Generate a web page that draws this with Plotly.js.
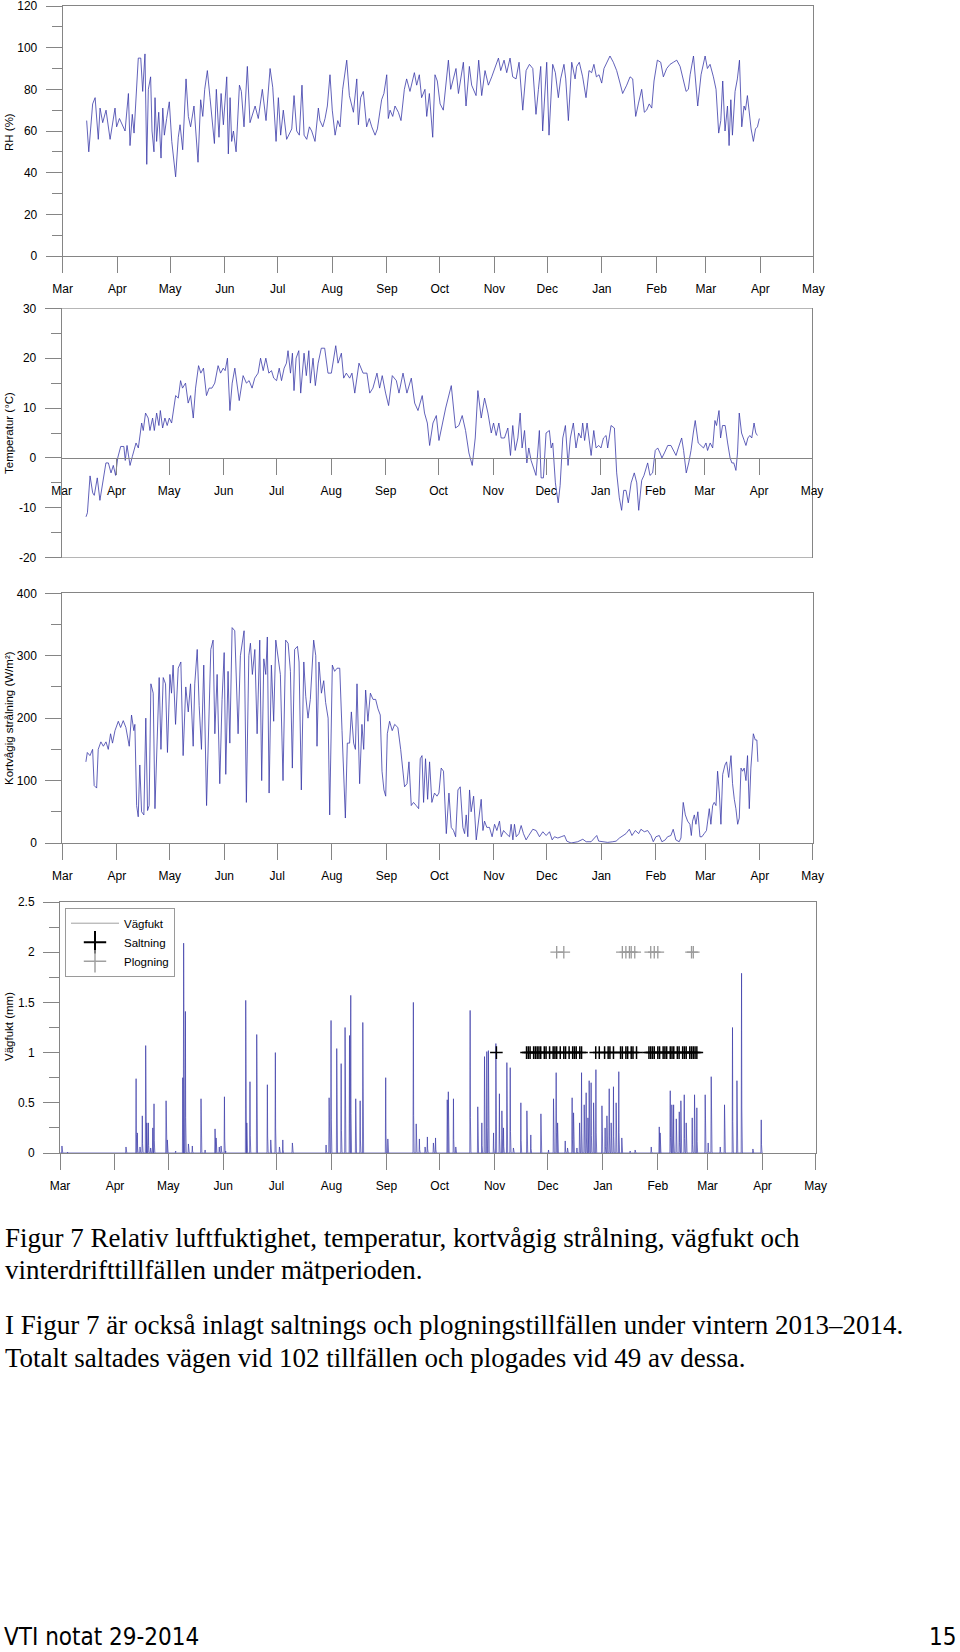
<!DOCTYPE html>
<html>
<head>
<meta charset="utf-8">
<script src="https://cdn.plot.ly/plotly-3.0.1.min.js"></script>
<style>
html,body{margin:0;padding:0;background:#ffffff;}
#chart{width:960px;height:1652px;}
</style>
</head>
<body>
<div id="chart"></div>
<script>
// ---------------- DATA (days since 2013-03-01) ----------------
const periodStart = '2013-03-01';
const periodEnd = '2014-05-01';

const monthTickDates = ['2013-03-01','2013-04-01','2013-05-01','2013-06-01','2013-07-01','2013-08-01','2013-09-01','2013-10-01','2013-11-01','2013-12-01','2014-01-01','2014-02-01','2014-03-01','2014-04-01','2014-05-01'];
const monthTickLabels = ['Mar','Apr','May','Jun','Jul','Aug','Sep','Oct','Nov','Dec','Jan','Feb','Mar','Apr','May'];

// Relative humidity (%)
const rhDays = [13.6,14.8,17.0,18.4,20.2,21.2,22.7,24.6,26.9,29.7,30.6,32.2,35.4,37.3,38.2,39.5,40.5,41.1,42.9,44.3,45.4,46.7,47.7,48.6,49.9,50.7,51.8,52.4,53.3,54.5,55.8,56.8,57.7,59.0,60.5,61.9,62.8,64.1,65.6,66.6,68.1,70.0,71.3,72.6,74.5,76.8,78.3,79.5,80.6,82.1,83.6,86.1,87.2,88.7,89.9,91.2,93.1,94.0,95.0,95.9,96.9,98.4,100.3,101.4,102.9,104.8,106.3,109.2,111.0,113.3,115.4,117.7,119.2,121.1,122.4,123.7,125.2,127.1,130.0,131.3,132.8,134.3,135.8,137.0,138.5,140.0,141.3,143.2,145.1,146.0,147.6,148.9,150.2,151.7,153.0,154.6,156.1,157.4,158.9,161.2,162.7,165.0,166.9,167.8,169.1,170.6,172.5,174.0,175.4,177.3,178.6,181.0,182.3,183.9,184.8,185.8,187.3,188.6,190.5,192.0,193.9,195.2,197.1,199.6,200.9,202.4,203.7,205.6,206.6,208.1,210.0,211.3,212.6,214.2,216.0,218.9,220.2,221.7,223.2,224.6,227.4,228.9,230.8,232.1,234.6,236.1,
237.8,239.7,241.6,243.5,245.4,247.3,248.6,250.5,252.0,253.9,255.4,257.3,259.0,261.1,263.0,264.9,266.8,268.6,270.0,271.3,272.4,274.7,276.0,278.1,279.6,281.3,282.6,284.5,285.5,287.0,288.9,290.8,291.7,293.2,295.1,297.0,298.7,300.2,301.5,302.9,304.4,305.9,307.2,308.7,310.6,312.5,314.4,316.3,317.8,320.1,322.0,323.5,325.2,326.7,328.6,330.1,331.4,332.9,334.3,335.6,337.5,339.4,340.9,342.8,344.7,346.6,348.5,350.4,352.3,353.8,355.1,356.1,358.0,360.4,362.3,364.6,365.9,367.4,369.3,370.8,372.3,373.5,374.6,375.9,377.3,378.2,379.2,380.1,381.6,382.9,384.1,385.4,386.7,387.5,388.6,389.8,390.7,392.0,393.2,394.3,395.4];
const rhValues = [65,50,73,76,56,71,64,70,56,71,62,66,60,78,53,68,59,68,95,95,79,97,44,80,86,60,50,76,55,69,47,71,58,66,74,55,48,38,57,63,51,85,67,62,72,45,75,67,80,89,76,54,80,57,78,63,86,49,76,55,60,50,82,79,62,91,64,72,66,80,65,90,81,55,76,58,70,56,61,77,60,58,82,58,56,62,60,55,71,65,62,66,72,87,70,58,65,62,80,94,77,69,85,63,76,79,62,66,62,58,61,75,78,87,66,70,67,72,69,65,80,85,79,88,82,87,76,80,67,78,57,87,84,73,70,94,80,85,90,78,93,72,91,82,77,94,
77,89,82,86,91,95,89,94,88,95,86,85,93,70,89,92,90,68,80,91,60,93,58,92,88,76,85,92,85,65,93,85,91,93,86,76,89,88,92,86,87,83,90,93,96,93,89,83,78,82,86,85,67,73,80,69,70,73,71,84,94,93,86,90,92,93,94,91,84,79,80,87,96,72,87,96,90,92,86,80,59,65,84,60,72,53,75,58,79,85,94,62,72,70,77,68,61,55,61,62,66];

// Temperature (°C)
const tempDays = [13.8,14.6,16.1,17.6,18.5,20.2,21.7,23.3,25.1,26.5,28.0,29.3,30.6,31.8,33.5,35.3,36.1,37.1,38.8,40.1,42.2,43.5,45.4,46.3,47.6,49.1,50.1,51.6,52.6,53.9,55.2,56.0,57.3,58.6,59.9,61.1,62.4,64.7,66.2,67.5,68.6,70.3,71.8,73.2,74.7,76.0,77.7,79.0,80.5,82.2,83.7,85.3,86.9,88.8,90.2,91.7,92.8,94.1,95.5,96.8,98.3,100.8,103.0,104.9,106.4,108.1,109.6,111.5,112.9,114.4,115.9,117.6,119.1,120.4,122.0,123.5,124.8,126.3,127.6,128.5,129.9,131.0,131.9,133.1,134.6,135.7,136.7,137.6,138.9,140.3,141.2,142.7,144.0,145.6,147.4,149.3,151.2,153.1,155.6,156.9,158.8,160.1,161.6,163.5,164.8,166.4,168.8,171.1,173.3,174.9,176.7,179.0,180.5,182.0,183.9,185.6,187.7,190.0,191.5,193.8,196.0,198.5,200.4,202.3,204.7,206.0,207.6,208.9,210.8,212.7,214.2,215.5,218.0,221.2,223.6,225.5,227.4,229.3,231.2,233.1,234.8,236.3,
238.2,240.1,242.0,243.9,245.2,246.7,248.2,249.5,251.4,253.3,254.8,256.1,257.5,259.0,260.3,261.4,262.8,264.1,265.2,266.5,267.8,269.3,271.2,272.2,273.5,275.0,276.9,277.9,278.8,280.3,281.9,283.0,284.5,286.0,287.5,288.8,290.5,292.0,293.5,294.9,295.8,296.9,298.3,300.6,302.1,303.4,304.9,306.2,307.6,309.1,310.0,311.9,313.8,315.1,316.6,317.9,319.1,320.4,321.7,323.3,325.1,326.5,327.6,329.3,330.6,332.7,334.0,335.5,337.0,338.4,339.7,340.8,342.2,344.1,345.9,347.8,348.8,350.1,352.0,353.1,354.6,356.0,357.3,358.6,359.7,361.4,362.9,364.4,365.8,366.7,368.2,369.6,370.9,371.8,373.2,374.1,375.2,376.7,378.1,379.5,380.5,381.6,382.8,383.7,384.7,386.0,387.5,388.5,389.6,390.7,391.8,393.1,394.1,395.0];
const tempValues = [-11.8,-11,-3.6,-7,-7.5,-4,-8.5,-5,-1,-1,-3,-1.5,-3.5,0,2.3,2.3,-0.5,2.5,-1.5,0.3,3,2,7,5.5,9,8,5.5,8,5.5,9,6.5,9.5,6,8,6.5,8,7,12.5,12,15.5,14,15,11,12.5,8,14,18.5,17,18,12.5,14,14,15,18.5,17,18,17.5,20,9.5,15,18,11.5,16.5,15,15.5,14,16,17,20,17.5,20,17,17.5,16,15.5,18,15.5,18,19,21.5,17,21,13.5,20,21.5,13,18,21,16.5,21.5,15,20,14.5,19,22,22,17,17,22.5,19,21,16,17,16,17,13,19,17,17,13,14,17,14,16.5,13,10.5,16.5,15.5,13,17,13,16,11,9.5,12.5,9,7,2.5,7,8.5,3.5,6,10,14.5,6,6.5,8.5,5.5,1,-1.5,4,13.5,
8,12,9,5,7,4.5,7,4,4,6,0.5,6.5,1.5,4,9,2,5.5,-1,2,-0.5,-2,-3.5,5.5,-4,-4,5,5.5,2,3,-5,-9,-5.5,4,6.5,-1.5,4,7,2,5,4,7,3.5,7,0.5,5.5,2,2.5,2,4,4.5,2,6.5,6,-3,-8,-10.5,-6.5,-6.5,-9,-5,-3,-5,-10.5,-4.5,-3.5,-1,-3.5,-3,1.5,2,1,0,1,2.5,2.5,1,0.5,2,4,1.5,-3,-1,1.5,5,7.5,3,2.5,2,3,1.5,3,2,7.5,6.5,9.5,4,6.5,6.5,3,0,-1,-1,-2.5,1,9,5,3.5,2.5,4,4.5,4,7,5,4.5];

// Short-wave radiation (W/m²)
const radDays = [13.4,14.2,15.7,17.2,18.1,19.5,20.4,21.9,23.3,24.8,26.1,27.4,28.5,29.9,31.8,33.1,34.6,36.1,38.0,39.3,40.6,41.2,42.2,43.1,44.0,45.0,46.3,47.4,48.4,49.3,50.3,51.6,52.6,53.9,55.0,56.0,57.3,58.6,59.7,61.1,62.0,62.9,64.3,65.8,67.3,68.6,70.1,71.5,72.8,74.3,75.2,76.6,77.7,79.0,80.3,81.9,83.2,84.3,85.6,86.6,87.9,89.4,90.7,91.9,92.8,94.1,95.1,96.4,97.9,98.9,99.8,101.1,103.2,104.5,105.9,106.8,107.9,109.3,110.6,112.1,113.2,114.4,115.5,116.4,117.4,118.7,120.0,121.2,122.5,123.8,125.3,126.8,128.2,129.5,130.6,131.9,133.5,134.4,135.7,137.1,138.2,139.5,140.8,142.7,143.9,144.6,145.7,147.1,148.4,149.5,150.9,151.8,153.3,154.6,156.0,157.5,158.8,159.7,160.7,161.8,163.1,164.1,165.4,166.4,167.3,168.8,170.1,171.1,172.2,173.5,174.9,176.4,177.9,179.2,180.5,181.5,182.6,183.6,184.5,185.8,187.3,188.7,190.5,192.1,193.4,194.3,195.7,196.8,198.1,199.4,200.9,202.3,203.2,204.2,205.1,206.2,207.4,208.5,209.8,211.3,212.7,213.8,215.1,216.4,218.0,219.5,220.8,222.1,223.3,224.6,225.9,227.4,228.4,229.3,230.2,231.2,232.1,233.5,235.0,236.3,
237.8,238.8,239.7,241.0,242.5,244.0,245.4,246.7,248.2,249.2,250.5,252.0,253.9,254.8,255.8,256.7,257.7,259.2,260.5,261.8,263.3,264.8,267.1,269.0,270.9,272.8,274.7,276.6,278.1,279.4,281.3,283.2,285.1,286.4,288.8,292.6,295.5,297.4,300.2,302.1,303.4,304.5,306.8,309.6,312.5,314.4,316.3,318.2,320.0,321.9,323.4,325.3,327.2,328.5,330.4,332.3,334.2,335.5,337.0,338.9,340.4,342.3,343.6,345.5,346.8,348.3,350.2,351.2,352.5,353.7,355.0,356.3,357.1,357.8,358.8,359.7,360.8,362.0,363.1,364.4,365.7,367.3,368.2,369.2,370.1,371.1,372.0,373.0,373.9,374.9,376.2,377.1,378.3,379.6,380.5,381.5,382.4,383.4,384.3,385.3,386.2,387.1,388.1,389.0,390.0,390.9,392.3,393.4,394.3,394.9];
const radValues = [130,145,140,150,92,88,150,162,155,162,150,175,160,180,195,185,196,185,155,205,180,190,60,42,125,50,45,200,52,60,255,240,55,170,265,150,265,255,145,270,240,285,190,280,290,140,250,210,255,155,255,310,220,150,285,60,180,310,325,175,270,95,230,305,110,275,160,345,340,250,175,300,340,65,300,320,270,310,175,325,100,295,270,330,80,285,195,325,300,270,100,325,320,275,120,310,315,290,85,290,235,200,230,325,300,155,290,240,260,225,200,45,285,275,280,280,180,120,40,160,160,210,160,150,255,95,190,150,245,195,240,230,230,215,205,115,85,75,175,195,180,190,185,150,120,90,95,130,60,65,60,55,135,140,65,135,70,130,65,80,75,80,120,115,15,80,25,20,10,85,90,25,15,45,10,85,50,75,5,40,
70,20,35,25,25,10,30,20,35,10,20,15,10,30,5,30,10,15,28,15,5,12,22,20,10,18,12,18,5,10,8,10,12,3,0,2,6,2,2,8,12,3,2,1,2,3,8,12,15,22,12,20,15,22,18,20,12,2,10,12,2,5,10,12,22,5,2,8,65,45,35,30,12,35,45,30,50,10,10,15,20,55,30,60,65,60,115,80,30,110,125,130,105,140,95,70,55,30,40,120,115,120,100,140,55,120,175,165,165,130];

// Road surface moisture (mm): peak days and peak values
const wetDays = [1.1,4.3,37.2,42.9,43.6,45.1,46.4,48.3,48.9,49.8,51.1,52.3,53.0,59.8,60.5,65.2,69.2,69.7,70.7,72.4,74.6,79.5,81.8,87.4,88.0,89.8,90.8,92.7,93.4,104.7,105.3,107.1,110.9,116.9,118.8,121.4,123.7,125.6,131.0,150.0,151.7,152.8,156.0,158.5,160.7,163.2,163.9,166.7,169.2,170.7,183.6,184.8,199.2,200.8,202.6,205.8,207.1,210.5,211.7,218.3,218.9,221.8,223.1,231.2,235.5,
237.8,239.3,240.6,241.5,244.4,245.7,247.7,249.1,250.0,251.9,253.8,255.6,259.8,263.2,265.4,271.1,275.4,278.2,279.7,280.5,284.8,286.1,288.7,289.5,291.4,292.9,294.0,295.5,296.6,297.6,298.3,299.4,300.8,302.1,305.5,307.3,308.3,309.6,310.7,312.0,313.5,315.0,316.7,321.4,324.2,333.3,337.8,338.3,344.0,344.9,345.9,347.4,349.1,350.0,351.9,353.0,356.4,357.7,359.0,363.7,365.4,367.1,372.2,374.6,379.1,381.6,384.2,390.6,395.3];
const wetMm = [0.07,0.01,0.06,0.74,0.2,0.06,0.37,1.07,0.3,0.3,0.05,0.25,0.49,0.52,0.13,0.02,0.75,2.09,1.41,0.09,0.07,0.54,0.03,0.24,0.15,0.06,0.07,0.56,0.02,1.52,0.3,0.71,1.18,0.68,0.13,1.0,0.06,0.13,0.1,0.08,0.55,1.32,1.04,0.89,1.25,1.17,1.57,0.54,0.52,1.3,0.75,0.14,1.5,0.29,0.14,0.06,0.16,0.1,0.15,0.53,0.61,0.54,0.06,1.42,0.46,
0.3,0.96,1.01,1.02,0.2,1.09,0.59,0.42,0.25,0.9,0.85,0.05,0.5,0.42,0.18,0.39,0.03,0.54,0.8,0.3,0.12,0.05,0.55,0.4,0.05,0.3,0.8,0.48,0.6,0.35,0.72,0.7,0.5,0.83,0.47,0.25,0.37,0.64,0.3,0.66,0.5,0.81,0.15,0.02,0.03,0.06,0.26,0.2,0.62,0.48,0.48,0.34,0.41,0.52,0.58,0.3,0.35,0.58,0.45,0.58,0.1,0.76,0.06,0.48,1.25,0.72,1.79,0.04,0.33];

// Winter maintenance occasions
const saltningDates = ['2013-11-02','2013-11-19','2013-11-20','2013-11-21','2013-11-23','2013-11-24','2013-11-25','2013-11-26','2013-11-27','2013-11-29','2013-11-30','2013-12-02','2013-12-04','2013-12-05','2013-12-06','2013-12-08','2013-12-10','2013-12-11','2013-12-13','2013-12-15','2013-12-16','2013-12-17','2013-12-19','2013-12-20','2013-12-28','2013-12-30','2014-01-02','2014-01-04','2014-01-05','2014-01-07','2014-01-11','2014-01-12','2014-01-14','2014-01-15','2014-01-17','2014-01-18','2014-01-20','2014-01-27','2014-01-28','2014-01-29','2014-01-30','2014-02-01','2014-02-02','2014-02-04','2014-02-05','2014-02-06','2014-02-08','2014-02-09','2014-02-10','2014-02-12','2014-02-13','2014-02-15','2014-02-16','2014-02-17','2014-02-19','2014-02-20','2014-02-21','2014-02-22','2014-02-23'];
const plogningDates = ['2013-12-06','2013-12-10','2014-01-12','2014-01-14','2014-01-16','2014-01-17','2014-01-19','2014-01-28','2014-01-30','2014-02-01','2014-02-20','2014-02-21'];
const saltningLevel = 1;
const plogningLevel = 2;

const yTitles = ['RH (%)','Temperatur (°C)','Kortvågig strålning (W/m²)','Vägfukt (mm)'];
const rhTicks = [0,20,40,60,80,100,120];
const tempTickVals = [-20,-10,0,10,20,30];
const tempTickText = ['-20','-10','0','10','20','30'];
const radTicks = [0,100,200,300,400];
const wetTicks = [0,0.5,1,1.5,2,2.5];

// ---------------- BUILD ----------------
const t0 = Date.UTC(2013,2,1);
const toMs = d => t0 + d*86400000;

const BLUE = '#3a3aa8';
const AX = '#858585';
const SANS = 'Liberation Sans, Arial, sans-serif';
const SERIF = 'Liberation Serif, Times New Roman, serif';
const NARROW = 'Liberation Sans Narrow, DejaVu Sans Condensed, Arial Narrow, sans-serif';
const W = 960, H = 1652;
const fx = px => px / W;
const fy = py => 1 - py / H;

// spikes for road moisture
const wetOrder = wetDays.map((d,i)=>i).sort((a,b)=>wetDays[a]-wetDays[b]);
const wetX = [toMs(0)], wetY = [0];
wetOrder.forEach(i => {
  const d = wetDays[i], h = wetMm[i];
  wetX.push(toMs(d-0.2), toMs(d), toMs(d+0.15), toMs(d+0.45));
  wetY.push(0, h, h*0.25, 0);
});
wetX.push(toMs(396)); wetY.push(0);

const lineStyle = {color: BLUE, width: 0.8};
const traces = [
  {x: rhDays.map(toMs), y: rhValues, xaxis:'x', yaxis:'y', mode:'lines', line: lineStyle, showlegend:false, hoverinfo:'skip'},
  {x: tempDays.map(toMs), y: tempValues, xaxis:'x2', yaxis:'y2', mode:'lines', line: lineStyle, showlegend:false, hoverinfo:'skip'},
  {x: radDays.map(toMs), y: radValues, xaxis:'x3', yaxis:'y3', mode:'lines', line: lineStyle, showlegend:false, hoverinfo:'skip'},
  {x: wetX, y: wetY, xaxis:'x4', yaxis:'y4', mode:'lines', line: {color: BLUE, width: 0.7}, showlegend:false, hoverinfo:'skip'},
  {x: saltningDates, y: saltningDates.map(()=>saltningLevel), xaxis:'x4', yaxis:'y4', mode:'markers',
   marker:{symbol:'cross-thin', size:9, line:{width:1.5, color:'#000'}}, showlegend:false, hoverinfo:'skip'},
  {x: plogningDates, y: plogningDates.map(()=>plogningLevel), xaxis:'x4', yaxis:'y4', mode:'markers',
   marker:{symbol:'cross-thin', size:9, line:{width:1.3, color:'#9a9a9a'}}, showlegend:false, hoverinfo:'skip'},
  // legend entries
  {x:[null], y:[null], xaxis:'x4', yaxis:'y4', mode:'lines', name:'Vägfukt', line:{color:'#a0a0a0', width:1}},
  {x:[null], y:[null], xaxis:'x4', yaxis:'y4', mode:'markers', name:'Saltning', marker:{symbol:'cross-thin', size:16, line:{width:2, color:'#000'}}},
  {x:[null], y:[null], xaxis:'x4', yaxis:'y4', mode:'markers', name:'Plogning', marker:{symbol:'cross-thin', size:16, line:{width:1.5, color:'#a0a0a0'}}}
];

const tickFont = {family: SANS, size: 12, color: '#000'};
function xAxis(x0, x1, extra){
  return Object.assign({
    type:'date', domain:[fx(x0), fx(x1)], range:[periodStart, periodEnd],
    tickmode:'array', tickvals: monthTickDates, ticktext: monthTickLabels,
    ticks:'outside', ticklen:16, tickwidth:1, tickcolor:AX,
    showline:true, linecolor:AX, linewidth:1, mirror:true,
    showgrid:false, zeroline:false, tickfont: tickFont, ticklabelstandoff: 6,
    ticklabeloverflow:'allow', fixedrange:true
  }, extra || {});
}
function yAxis(top, bottom, range, tickvals, minorDtick, anchor, extra){
  return Object.assign({
    domain:[fy(bottom), fy(top)], range: range, anchor: anchor,
    tickmode:'array', tickvals: tickvals,
    ticks:'outside', ticklen:16, tickwidth:1, tickcolor:AX,
    minor:{tickmode:'linear', tick0:0, dtick:minorDtick, ticks:'outside', ticklen:10, tickcolor:AX, showgrid:false},
    showline:true, linecolor:AX, linewidth:1, mirror:true,
    showgrid:false, zeroline:false, tickfont: tickFont, ticklabelstandoff: 6,
    ticklabeloverflow:'allow', fixedrange:true
  }, extra || {});
}

// panel 2 y geometry
const p2Top = 308.3, p2Bottom = 557.7;
const p2Zero = p2Bottom - (0 - (-20)) / 50 * (p2Bottom - p2Top);

const layout = {
  width: W, height: H,
  margin: {l:0, r:0, t:0, b:0},
  paper_bgcolor:'#ffffff', plot_bgcolor:'rgba(0,0,0,0)',
  showlegend: true,
  legend: {x: fx(65), y: fy(907.7), xanchor:'left', yanchor:'top', bgcolor:'#ffffff',
           bordercolor:'#9a9a9a', borderwidth:1, font:{family:SANS, size:11.5, color:'#000'},
           itemsizing:'trace', itemwidth:48, tracegroupgap:0},
  xaxis: xAxis(62.7, 813.3, {anchor:'y'}),
  yaxis: yAxis(6, 256, [0,120], rhTicks, 10, 'x'),
  xaxis2: xAxis(61.7, 812, {anchor:'free', position: fy(p2Zero), mirror:false}),
  yaxis2: yAxis(p2Top, p2Bottom, [-20,30], tempTickVals, 5, 'x2', {ticktext: tempTickText}),
  xaxis3: xAxis(62.3, 812.7, {anchor:'y3'}),
  yaxis3: yAxis(593.3, 843, [0,400], radTicks, 50, 'x3'),
  xaxis4: xAxis(60, 815.7, {anchor:'y4'}),
  yaxis4: yAxis(902, 1153, [0,2.5], wetTicks, 0.25, 'x4'),
  shapes: [
    {type:'line', xref:'x2', yref:'y2', x0: periodStart, x1: periodEnd, y0:30, y1:30, line:{color:AX, width:1}},
    {type:'line', xref:'x2', yref:'y2', x0: periodStart, x1: periodEnd, y0:-20, y1:-20, line:{color:AX, width:1}}
  ],
  annotations: [
    {text: yTitles[0], x: fx(9), y: fy(132), textangle:-90},
    {text: yTitles[1], x: fx(9), y: fy(433), textangle:-90},
    {text: yTitles[2], x: fx(9), y: fy(718), textangle:-90},
    {text: yTitles[3], x: fx(9), y: fy(1027), textangle:-90},
    {text: 'Figur 7 Relativ luftfuktighet, temperatur, kortvågig strålning, vägfukt och', x: fx(3), y: fy(1238), xanchor:'left', font:{family:SERIF, size:27, color:'#000'}},
    {text: 'vinterdrifttillfällen under mätperioden.', x: fx(3), y: fy(1270), xanchor:'left', font:{family:SERIF, size:27, color:'#000'}},
    {text: 'I Figur 7 är också inlagt saltnings och plogningstillfällen under vintern 2013–2014.', x: fx(3), y: fy(1325), xanchor:'left', font:{family:SERIF, size:27, color:'#000'}},
    {text: 'Totalt saltades vägen vid 102 tillfällen och plogades vid 49 av dessa.', x: fx(3), y: fy(1358), xanchor:'left', font:{family:SERIF, size:27, color:'#000'}},
    {text: 'VTI notat 29-2014', x: fx(2), y: fy(1637), xanchor:'left', font:{family:NARROW, size:24, color:'#000'}},
    {text: '15', x: fx(958), y: fy(1637), xanchor:'right', font:{family:NARROW, size:24, color:'#000'}}
  ].map(a => Object.assign({xref:'paper', yref:'paper', showarrow:false, xanchor:'center', yanchor:'middle', font:{family:SANS, size:11.5, color:'#000'}}, a))
};

Plotly.newPlot('chart', traces, layout, {staticPlot:true, displayModeBar:false});
</script>
</body>
</html>
